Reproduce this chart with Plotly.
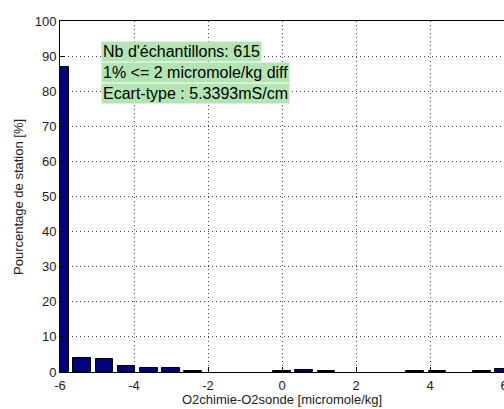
import plotly.graph_objects as go

bin_centers = [-6.0, -5.4, -4.8, -4.2, -3.6, -3.0, -2.4, -1.8, -1.2, -0.6, 0.0,
               0.6, 1.2, 1.8, 2.4, 3.0, 3.6, 4.2, 4.8, 5.4, 6.0]
percentages = [86.9, 4.07, 3.58, 1.63, 1.14, 1.14, 0.16, 0, 0, 0, 0.16,
               0.49, 0.16, 0, 0, 0, 0.16, 0.16, 0, 0.16, 0.8]
x_ticks = [-6, -4, -2, 0, 2, 4, 6]
x_tick_labels = ["-6", "-4", "-2", "0", "2", "4", "6"]
y_ticks = [0, 10, 20, 30, 40, 50, 60, 70, 80, 90, 100]
info_lines = ["Nb d'échantillons: 615",
              "1% <= 2 micromole/kg diff",
              "Ecart-type : 5.3393mS/cm"]

FONT = "Liberation Sans, Arial, sans-serif"
L, R, T, B = 60, 0, 21, 37
W, H = 504, 409
PW, PH = W - L - R, H - T - B

fig = go.Figure()
fig.add_trace(go.Bar(
    x=bin_centers, y=percentages, width=0.48,
    marker=dict(color="#000080",
                line=dict(color="#000000",
                          width=[1 if v > 0 else 0 for v in percentages])),
    cliponaxis=True,
))

axis_common = dict(
    showline=True, linecolor="black", linewidth=1, mirror=True,
    ticks="inside", ticklen=5, tickcolor="black",
    showgrid=True, gridcolor="#444444", griddash="1px,3px", gridwidth=1,
    zeroline=False, automargin=False, ticklabeloverflow="allow",
    tickfont=dict(family=FONT, size=13, color="#222222"),
)

fig.update_layout(
    width=W, height=H,
    margin=dict(l=L, r=R, t=T, b=B, autoexpand=False),
    paper_bgcolor="white", plot_bgcolor="white",
    showlegend=False,
    bargap=0,
    xaxis=dict(range=[-6, 6], tickvals=x_ticks, ticktext=x_tick_labels,
               ticklabelstandoff=1, **axis_common),
    yaxis=dict(range=[0, 100], tickvals=y_ticks,
               **axis_common),
)

# axis titles as annotations (pixel positions relative to plot area)
fig.add_annotation(
    x=(282 - L) / PW, xref="paper", y=-(399 - (T + PH)) / PH, yref="paper",
    text="O2chimie-O2sonde [micromole/kg]", showarrow=False,
    xanchor="center", yanchor="middle",
    font=dict(family=FONT, size=13, color="#222222"))
fig.add_annotation(
    x=-(L - 19) / PW, xref="paper", y=(T + PH - 197) / PH, yref="paper",
    text="Pourcentage de station [%]", showarrow=False, textangle=-90,
    xanchor="center", yanchor="middle",
    font=dict(family=FONT, size=13, color="#222222"))

row_centers_px = [51, 72, 93]
for text, yc in zip(info_lines, row_centers_px):
    fig.add_annotation(
        x=(101 - L) / PW, xref="paper", y=(T + PH - yc) / PH, yref="paper",
        text=text, showarrow=False,
        xanchor="left", yanchor="middle", align="left",
        font=dict(family=FONT, size=16, color="black"),
        bgcolor="#b3e5b3", borderpad=1,
    )

fig.write_html(
    "out.html",
    config={"displayModeBar": False},
    post_script="document.body.style.margin='0';document.body.style.padding='0';",
)
